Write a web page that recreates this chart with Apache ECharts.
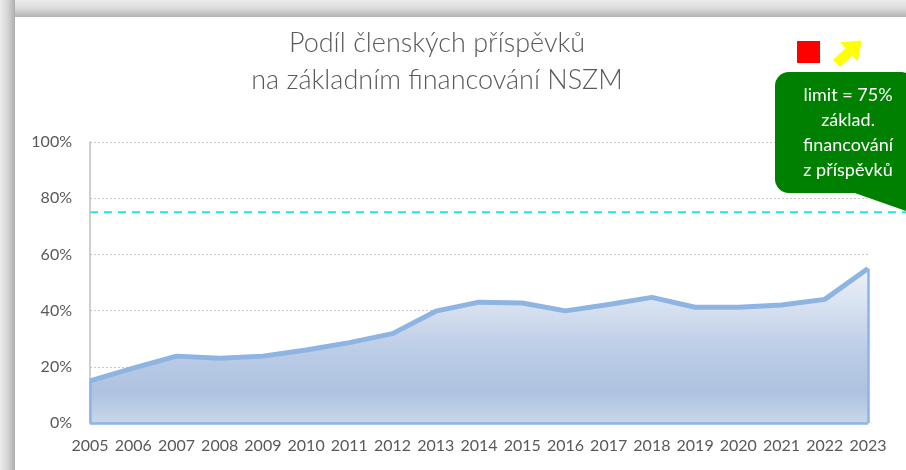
<!DOCTYPE html>
<html>
<head>
<meta charset="utf-8">
<script src="https://cdn.jsdelivr.net/npm/echarts@6/dist/echarts.min.js"></script>
<style>
  html, body { margin: 0; padding: 0; background: #fff; }
  #chart { width: 906px; height: 470px; }
</style>
</head>
<body>
<div id="chart"></div>
<script>
// data
const years = ['2005', '2006', '2007', '2008', '2009', '2010', '2011', '2012', '2013', '2014',
    '2015', '2016', '2017', '2018', '2019', '2020', '2021', '2022', '2023']
const shares = [15, 19.5, 23.8, 23, 23.8, 26, 28.6, 31.8, 39.8, 43, 42.7, 39.9, 42.2, 44.7, 41.2, 41.2, 42, 44, 55]
const limitValue = 75
const yTicks = [0, 20, 40, 60, 80, 100]
const titleLines = ['Podíl členských příspěvků', 'na základním financování NSZM']
const calloutLines = ['limit = 75%', 'základ.', 'financování', 'z příspěvků']

const FONT = 'Lato, "Open Sans", sans-serif'
const LINE_BLUE = '#8EB4E3'
const first = years[0]
const last = years[years.length - 1]

const chart = echarts.init(document.getElementById('chart'))

// little block arrow pointing up-right
const arrowPts = [[-17, -5], [0, -5], [0, -13], [17, 0], [0, 13], [0, 5], [-17, 5]]
const ang = -42 * Math.PI / 180
const arrowShape = arrowPts.map(p => [
    p[0] * Math.cos(ang) - p[1] * Math.sin(ang),
    p[0] * Math.sin(ang) + p[1] * Math.cos(ang),
])

const option = {
    backgroundColor: '#fff',
    animation: false,
    title: {
        text: titleLines.join('\n'),
        left: 432,
        textAlign: 'center',
        top: 20,
        textStyle: {
            fontFamily: FONT,
            fontSize: 27,
            fontWeight: 300,
            color: '#595959',
            lineHeight: 37,
        },
    },
    grid: {
        left: 90,
        right: 38,
        top: 142,
        bottom: 47,
    },
    xAxis: {
        type: 'category',
        data: years,
        boundaryGap: false,
        axisLine: { lineStyle: { color: '#BFBFBF', width: 1.5 } },
        axisTick: { show: false },
        axisLabel: {
            color: '#595959',
            fontFamily: FONT,
            fontSize: 16,
            margin: 15,
            interval: 0,
        },
    },
    yAxis: {
        type: 'value',
        min: 0,
        max: yTicks[yTicks.length - 1],
        interval: yTicks[1] - yTicks[0],
        axisLine: { show: true, lineStyle: { color: '#BFBFBF', width: 1.5 } },
        axisTick: { show: false },
        axisLabel: {
            formatter: '{value}%',
            color: '#595959',
            fontFamily: FONT,
            fontSize: 16,
            margin: 18,
        },
        splitLine: {
            lineStyle: { color: '#C8C8C8', type: [2, 2], width: 1 },
        },
    },
    series: [
        {
            type: 'line',
            data: shares,
            symbol: 'none',
            lineStyle: { color: LINE_BLUE, width: 5, join: 'round' },
            areaStyle: {
                opacity: 1,
                color: new echarts.graphic.LinearGradient(0, 0, 0, 1, [
                    { offset: 0, color: '#EEF2F9' },
                    { offset: 0.55, color: '#BACBE5' },
                    { offset: 0.8, color: '#AEC3E0' },
                    { offset: 1, color: '#C8D7EA' },
                ]),
            },
            markLine: {
                silent: true,
                symbol: 'none',
                label: { show: false },
                lineStyle: { color: LINE_BLUE, width: 2.5, type: 'solid' },
                data: [
                    [{ coord: [first, 0] }, { coord: [last, 0] }],
                    [{ coord: [first, 0] }, { coord: [first, shares[0]] }],
                    [{ coord: [last, 0] }, { coord: [last, shares[shares.length - 1]] }],
                ],
            },
        },
    ],
}
chart.setOption(option)

// dashed limit line runs past the plot to the right edge
const limitY = chart.convertToPixel({ yAxisIndex: 0 }, limitValue)
const startX = chart.convertToPixel({ xAxisIndex: 0 }, first)

chart.setOption({
    graphic: [
        // window frame shadow
        {
            type: 'rect',
            shape: { x: 0, y: 0, width: 906, height: 17 },
            style: {
                fill: new echarts.graphic.LinearGradient(0, 0, 0, 1, [
                    { offset: 0, color: '#ECECEC' },
                    { offset: 0.5, color: '#DADADA' },
                    { offset: 1, color: '#B3B3B3' },
                ]),
            },
            silent: true,
        },
        {
            type: 'rect',
            shape: { x: 0, y: 0, width: 15, height: 470 },
            style: {
                fill: new echarts.graphic.LinearGradient(0, 0, 1, 0, [
                    { offset: 0, color: '#ECECEC' },
                    { offset: 0.5, color: '#D6D6D6' },
                    { offset: 1, color: '#ADADAD' },
                ]),
            },
            silent: true,
        },
        {
            type: 'line',
            shape: { x1: startX, y1: limitY, x2: 906, y2: limitY },
            style: { stroke: '#22E4EE', lineWidth: 2, lineDash: [8, 6] },
            silent: true,
        },
        // callout bubble
        {
            type: 'polygon',
            shape: { points: [[852, 192], [906, 211], [906, 185]] },
            style: { fill: '#008000' },
            silent: true,
        },
        {
            type: 'rect',
            shape: { x: 775, y: 72, width: 140, height: 121, r: 14 },
            style: { fill: '#008000' },
            silent: true,
        },
        {
            type: 'text',
            x: 848,
            y: 83,
            style: {
                text: calloutLines.join('\n'),
                fill: '#fff',
                font: '18px ' + FONT,
                align: 'center',
                lineHeight: 25,
            },
            silent: true,
        },
        {
            type: 'rect',
            shape: { x: 797, y: 41, width: 23, height: 22 },
            style: { fill: '#FF0000' },
            silent: true,
        },
        {
            type: 'polygon',
            x: 849,
            y: 52,
            shape: { points: arrowShape },
            style: { fill: '#FFFF00' },
            silent: true,
        },
    ],
})
</script>
</body>
</html>
